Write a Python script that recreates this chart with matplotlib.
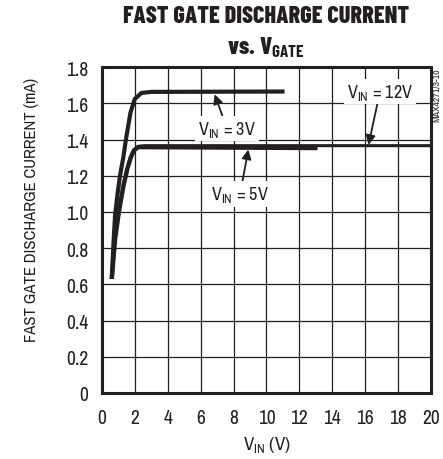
import matplotlib
matplotlib.use("Agg")
import matplotlib.pyplot as plt
import numpy as np

FONT = ['Archivo Narrow', 'DejaVu Sans']
TITLE_FONT = ['Barlow Condensed', 'DejaVu Sans']
plt.rcParams['font.family'] = FONT
plt.rcParams['mathtext.fontset'] = 'custom'
plt.rcParams['mathtext.rm'] = 'Archivo Narrow'
plt.rcParams['mathtext.bf'] = 'Barlow Condensed:bold'
plt.rcParams['mathtext.default'] = 'regular'

# curves: V_GATE (V) vs current (mA)
x_3v = [0.6, 0.7, 0.8, 0.95, 1.1, 1.3, 1.46, 1.74, 2.0, 2.4, 3.0, 11.1]
y_3v = [0.63, 0.82, 0.98, 1.1, 1.2, 1.3, 1.40, 1.55, 1.624, 1.657, 1.663, 1.665]
x_5v = [0.6, 0.8, 1.03, 1.3, 1.55, 1.75, 1.95, 2.2, 2.6, 13.1]
y_5v = [0.63, 0.85, 1.0, 1.14, 1.24, 1.30, 1.34, 1.358, 1.358, 1.353]
x_12v = [0.6, 0.8, 1.03, 1.3, 1.55, 1.75, 1.95, 2.2, 2.6, 20.0]
y_12v = [0.63, 0.85, 1.0, 1.14, 1.24, 1.30, 1.34, 1.362, 1.366, 1.366]

xticks = np.arange(0, 21, 2)
yticks = [0, 0.2, 0.4, 0.6, 0.8, 1.0, 1.2, 1.4, 1.6, 1.8]
ytick_labels = ['0', '0.2', '0.4', '0.6', '0.8', '1.0', '1.2', '1.4', '1.6', '1.8']

INK = '#231f20'

fig = plt.figure(figsize=(4.43, 4.60), dpi=100)
ax = fig.add_axes([0.230, 0.1435, 0.743, 0.7085])

ax.plot(x_12v, y_12v, color=INK, lw=2.2, solid_capstyle='butt', zorder=3)
ax.plot(x_5v, y_5v, color=INK, lw=3.2, solid_capstyle='butt', zorder=3)
ax.plot(x_3v, y_3v, color=INK, lw=3.0, solid_capstyle='butt', zorder=3)

ax.set_xlim(0, 20)
ax.set_ylim(0, 1.8)
ax.set_xticks(xticks)
ax.set_yticks(yticks)
ax.set_yticklabels(ytick_labels)
ax.grid(True, color=INK, lw=0.9)
ax.tick_params(length=0, labelsize=14, colors=INK)
ax.tick_params(axis='x', pad=11)
ax.tick_params(axis='y', pad=10)
for s in ax.spines.values():
    s.set_linewidth(2.2)
    s.set_color(INK)

box = dict(facecolor='white', edgecolor='none', pad=2)
arr = dict(arrowstyle='-|>', color=INK, lw=1.3, mutation_scale=14,
           shrinkA=0, shrinkB=0)
ax.annotate('V$_{IN}$ = 3V', xy=(6.85, 1.65), xytext=(7.6, 1.46),
            ha='center', va='center', fontsize=13, color=INK, bbox=box,
            arrowprops=arr, zorder=4)
ax.annotate('V$_{IN}$ = 5V', xy=(8.9, 1.345), xytext=(8.4, 1.10),
            ha='center', va='center', fontsize=13, color=INK, bbox=box,
            arrowprops=arr, zorder=4)
ax.annotate('V$_{IN}$ = 12V', xy=(16.2, 1.37), xytext=(16.9, 1.665),
            ha='center', va='center', fontsize=13, color=INK, bbox=box,
            arrowprops=arr, zorder=4)

ax.set_xlabel('V$_{IN}$ (V)', fontsize=13.5, color=INK, labelpad=5)
ax.set_ylabel('FAST GATE DISCHARGE CURRENT (mA)', fontsize=12, color=INK)
ax.yaxis.set_label_coords(-0.19, 0.565)

fig.text(0.60, 0.962, 'FAST GATE DISCHARGE CURRENT', ha='center', va='center',
         fontsize=17.5, fontweight=800, family=TITLE_FONT, color=INK)
fig.text(0.60, 0.897, r'vs. V$\mathbf{_{GATE}}$', ha='center', va='center',
         fontsize=17.5, fontweight=800, family=TITLE_FONT, color=INK)
fig.text(0.986, 0.852, 'MAX4271/3-10', rotation=90, ha='center', va='top',
         fontsize=7, color=INK)

fig.savefig('out.png', dpi=100)
